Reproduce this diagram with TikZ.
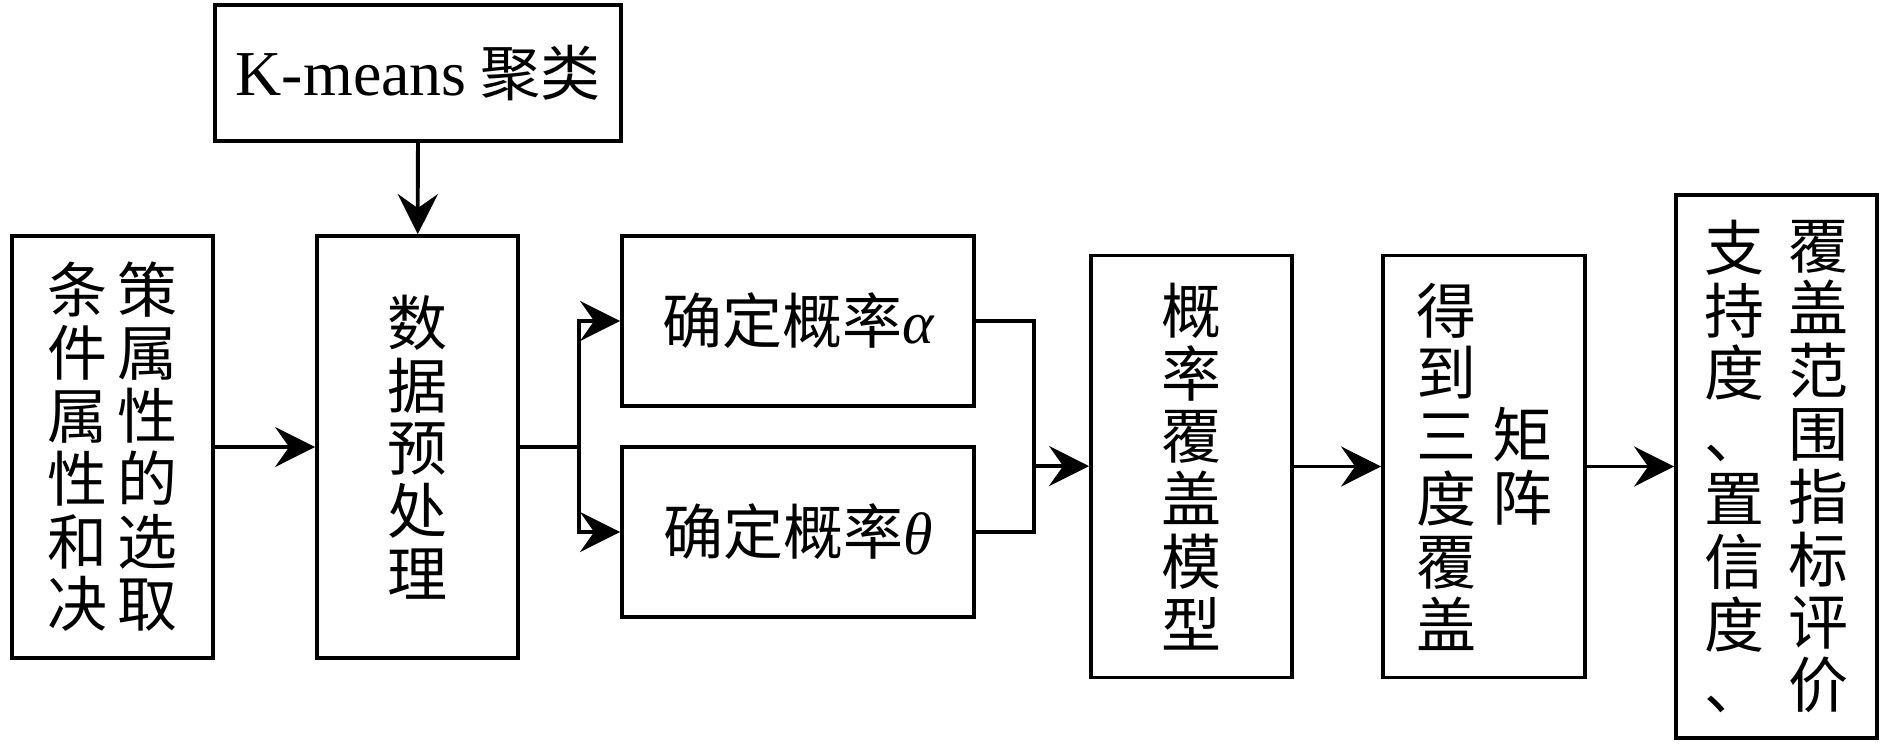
\documentclass[tikz,border=0pt]{standalone}
\usepackage{fontspec}
\setmainfont{Liberation Serif}
\newfontfamily\cjk{Noto Sans CJK SC}
\usetikzlibrary{arrows.meta, positioning, calc}

\newcommand{\vcol}[1]{\parbox[c]{1em}{\centering\baselineskip=31.4pt\lineskiplimit=-30pt\lineskip=0pt #1}}

\begin{document}
\begin{tikzpicture}[x=0.5pt, y=-0.5pt,
  box/.style={draw, line width=1.9pt, inner sep=0pt, align=center, font=\cjk\fontsize{30}{30.5}\selectfont},
  tallbox/.style={box, minimum width=100.5pt, minimum height=211pt},
  probbox/.style={box, minimum width=176pt, minimum height=85pt},
  arr/.style={-{Stealth[length=20pt, width=20pt, inset=7pt]}, line width=1.9pt},
  ln/.style={line width=1.9pt}]
  \useasboundingbox (0,0) rectangle (1890,744);

  % Input and preprocessing
  \node[tallbox] (cond) at (112.5,447) {\vcol{条\\件\\属\\性\\和\\决}\hspace{5pt}\vcol{策\\属\\性\\的\\选\\取}};
  \node[box, minimum width=203pt, minimum height=68pt] (kmeans) at (418,73) {{\rmfamily\fontsize{32}{34}\selectfont K-means} 聚类};
  \node[tallbox] (prep) at (417.5,447) {\vcol{数\\据\\预\\处\\理}};

  % Probabilities
  \node[probbox] (palpha) at (798,321) {确定概率{\rmfamily\itshape α}};
  \node[probbox] (ptheta) at (798,532) {确定概率{\rmfamily\itshape θ}};

  % Model and results
  \node[tallbox] (model) at (1191.5,466.5) {\vcol{概\\率\\覆\\盖\\模\\型}};
  \node[tallbox, minimum width=101pt] (matrix) at (1484,466.5) {\vcol{得\\到\\三\\度\\覆\\盖}\hspace{8pt}\vcol{矩\\阵}};
  \node[box, minimum width=100.5pt, minimum height=271.5pt] (eval) at (1776.5,466.5) {\vcol{支\\持\\度\\、\\置\\信\\度\\、}\hspace{12pt}\vcol{覆\\盖\\范\\围\\指\\标\\评\\价}};

  \coordinate (split) at (579,447);
  \coordinate (merge) at (1034,466);

  % Connectors
  \draw[arr] (cond) -- (prep);
  \draw[arr] (kmeans) -- (prep);
  \draw[ln] (prep.east) -- (split);
  \draw[arr] (split) |- (palpha);
  \draw[arr] (split) |- (ptheta);
  \draw[ln] (palpha) -| (merge);
  \draw[ln] (ptheta) -| (merge);
  \draw[arr] (merge) -- (model);
  \draw[arr] (model) -- (matrix);
  \draw[arr] (matrix) -- (eval);
\end{tikzpicture}
\end{document}
